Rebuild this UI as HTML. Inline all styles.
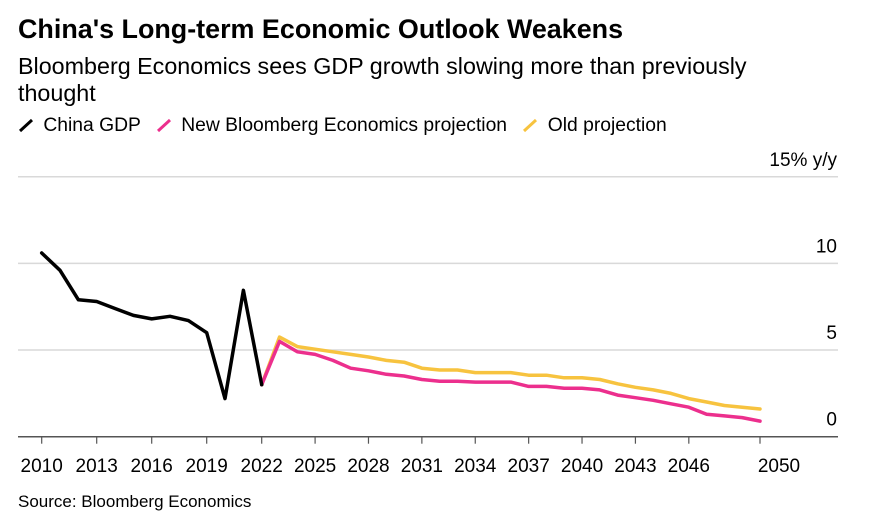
<!DOCTYPE html>
<html><head><meta charset="utf-8"><style>
body{margin:0;background:#fff;font-family:"Liberation Sans",Arial,sans-serif;color:#000}
#wrap{position:relative;width:886px;height:532px;overflow:hidden}
.t{position:absolute;white-space:nowrap}
</style></head><body>
<div id="wrap">
<div class="t" style="left:18px;top:14px;font-size:26.9px;font-weight:bold">China's Long-term Economic Outlook Weakens</div>
<div class="t" style="left:18px;top:53px;font-size:23.3px;line-height:27px;white-space:normal;width:780px">Bloomberg Economics sees GDP growth slowing more than previously thought</div>
<div class="t" style="left:18px;top:115px;font-size:19.3px">
<span><svg width="20" height="16" style="vertical-align:-2px"><line x1="2" y1="14" x2="14" y2="3" stroke="#000" stroke-width="3"/></svg> China GDP</span>
<span style="margin-left:10px"><svg width="20" height="16" style="vertical-align:-2px"><line x1="2" y1="14" x2="14" y2="3" stroke="#ec2f8d" stroke-width="3"/></svg> New Bloomberg Economics projection</span>
<span style="margin-left:10px"><svg width="20" height="16" style="vertical-align:-2px"><line x1="2" y1="14" x2="14" y2="3" stroke="#f7c33f" stroke-width="3"/></svg> Old projection</span>
</div>
<svg id="plot" width="886" height="532" style="position:absolute;left:0;top:0"></svg>
<div class="t" style="left:18px;top:492px;font-size:17px">Source: Bloomberg Economics</div>
</div>
<script>
const yTicks=[0,5,10,15];
const yTickLabels=["0","5","10","15% y/y"];
const xTickYears=[2010,2013,2016,2019,2022,2025,2028,2031,2034,2037,2040,2043,2046,2050];
const gdpYears=[2010,2011,2012,2013,2014,2015,2016,2017,2018,2019,2020,2021,2022];
const gdpValues=[10.6,9.6,7.9,7.8,7.4,7.0,6.8,6.95,6.7,6.0,2.2,8.45,3.0];
const projYears=[2022,2023,2024,2025,2026,2027,2028,2029,2030,2031,2032,2033,2034,2035,2036,2037,2038,2039,2040,2041,2042,2043,2044,2045,2046,2047,2048,2049,2050];
const newProj=[3.0,5.5,4.9,4.75,4.4,3.95,3.8,3.6,3.5,3.3,3.2,3.2,3.15,3.15,3.15,2.9,2.9,2.8,2.8,2.7,2.4,2.25,2.1,1.9,1.7,1.3,1.2,1.1,0.9];
const oldProj=[3.0,5.75,5.2,5.05,4.9,4.75,4.6,4.4,4.3,3.95,3.85,3.85,3.7,3.7,3.7,3.55,3.55,3.4,3.4,3.3,3.05,2.85,2.7,2.5,2.2,2.0,1.8,1.7,1.6];
function xs(yr){return yr<=2022?41.7+(yr-2010)*(220/12):261.7+(yr-2022)*(498.3/28);}
function ys(v){return 436.7-v*17.33;}
const NS="http://www.w3.org/2000/svg",svg=document.getElementById('plot');
function mk(tag,attrs){const e=document.createElementNS(NS,tag);for(const k in attrs)e.setAttribute(k,attrs[k]);svg.appendChild(e);return e;}
yTicks.forEach((v,i)=>{
 if(v>0){const g=mk('line',{x1:18,x2:838,y1:ys(v),y2:ys(v),stroke:'#d9d9d9','stroke-width':1.5});
 
 }
 const t=mk('text',{x:837,y:ys(v)-11,'text-anchor':'end','font-size':19,'font-family':'Liberation Sans,Arial,sans-serif',fill:'#000'});
 t.textContent=yTickLabels[i];
 
 
});
const ax=mk('line',{x1:18,x2:838,y1:ys(0),y2:ys(0),stroke:'#555','stroke-width':1.5});


xTickYears.forEach(yr=>{
 const x=xs(yr);
 const tk=mk('line',{x1:x,x2:x,y1:ys(0),y2:ys(0)+7,stroke:'#555','stroke-width':1.2});
 
 
 const t=mk('text',{x:yr===2050?x+19:x,y:472,'text-anchor':'middle','font-size':19,'font-family':'Liberation Sans,Arial,sans-serif',fill:'#000'});
 t.textContent=yr;
 
 
});
function line(years,vals,color,name){
 const d=years.map((y,i)=>(i?'L':'M')+xs(y).toFixed(1)+','+ys(vals[i]).toFixed(1)).join('');
 const p=mk('path',{d:d,fill:'none',stroke:color,'stroke-width':3.5,'stroke-linejoin':'round','stroke-linecap':'round'});
 
 
}
line(projYears,oldProj,'#f7c33f','old-projection-line');
line(projYears,newProj,'#ec2f8d','new-projection-line');
line(gdpYears,gdpValues,'#000','china-gdp-line');
</script>
</body></html>
